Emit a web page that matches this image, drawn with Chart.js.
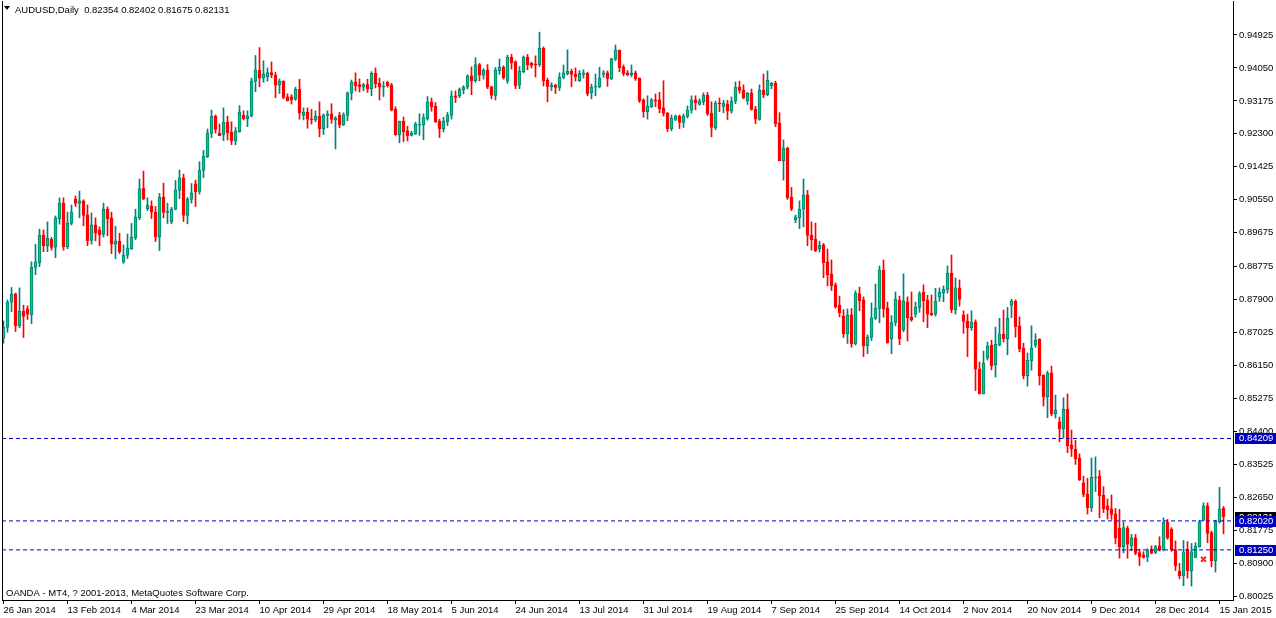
<!DOCTYPE html>
<html><head><meta charset="utf-8">
<script src="https://cdn.jsdelivr.net/npm/chart.js@4.4.1/dist/chart.umd.min.js"></script>
<style>html,body{margin:0;padding:0;background:#fff;overflow:hidden}#wrap{width:1276px;height:618px}</style>
</head><body><div id="wrap"><canvas id="c" width="1276" height="618"></canvas></div>
<script>
const symbolTitle = 'AUDUSD,Daily';
const copyrightText = 'OANDA - MT4, ? 2001-2013, MetaQuotes Software Corp.';

const open = [
0.8687,0.8716,0.8783,0.8805,0.8720,0.8759,0.8765,0.8750,0.8875,0.8888,
0.8961,0.8933,0.8950,0.8929,0.9005,0.9046,0.8930,0.8992,0.9057,0.9045,
0.9052,0.9015,0.8947,0.8988,0.8975,0.8963,0.9030,0.9007,0.8937,0.8945,
0.8889,0.8908,0.8925,0.8954,0.9007,0.9086,0.9031,0.9038,0.9022,0.8957,
0.9062,0.9021,0.8997,0.9030,0.9080,0.9113,0.9013,0.9056,0.9097,0.9077,
0.9133,0.9169,0.9231,0.9277,0.9232,0.9227,0.9261,0.9234,0.9212,0.9236,
0.9279,0.9270,0.9277,0.9369,0.9399,0.9378,0.9382,0.9393,0.9386,0.9359,
0.9370,0.9328,0.9328,0.9322,0.9348,0.9279,0.9288,0.9270,0.9267,0.9277,
0.9244,0.9279,0.9283,0.9267,0.9279,0.9254,0.9279,0.9338,0.9368,0.9361,
0.9354,0.9361,0.9350,0.9391,0.9364,0.9354,0.9367,0.9360,0.9296,0.9228,
0.9264,0.9238,0.9226,0.9230,0.9253,0.9253,0.9270,0.9315,0.9304,0.9264,
0.9244,0.9262,0.9279,0.9331,0.9331,0.9347,0.9354,0.9384,0.9371,0.9414,
0.9386,0.9399,0.9355,0.9332,0.9398,0.9407,0.9370,0.9434,0.9421,0.9359,
0.9395,0.9434,0.9418,0.9415,0.9413,0.9457,0.9372,0.9355,0.9359,0.9353,
0.9380,0.9390,0.9396,0.9388,0.9371,0.9388,0.9391,0.9339,0.9354,0.9355,
0.9388,0.9392,0.9376,0.9428,0.9452,0.9408,0.9392,0.9387,0.9392,0.9378,
0.9320,0.9289,0.9302,0.9320,0.9320,0.9299,0.9285,0.9244,0.9268,0.9277,
0.9260,0.9276,0.9293,0.9320,0.9308,0.9315,0.9333,0.9285,0.9246,0.9312,
0.9303,0.9309,0.9290,0.9317,0.9354,0.9346,0.9318,0.9339,0.9295,0.9268,
0.9346,0.9334,0.9358,0.9365,0.9259,0.9159,0.9192,0.9062,0.9002,0.9007,
0.9030,0.9068,0.8961,0.8950,0.8925,0.8935,0.8890,0.8858,0.8829,0.8775,
0.8746,0.8699,0.8749,0.8673,0.8806,0.8789,0.8667,0.8689,0.8740,0.8766,
0.8868,0.8768,0.8686,0.8729,0.8788,0.8710,0.8783,0.8743,0.8751,0.8769,
0.8809,0.8788,0.8754,0.8751,0.8796,0.8808,0.8817,0.8860,0.8763,0.8821,
0.8749,0.8733,0.8715,0.8731,0.8606,0.8540,0.8635,0.8668,0.8617,0.8669,
0.8698,0.8686,0.8774,0.8786,0.8720,0.8661,0.8588,0.8627,0.8669,0.8685,
0.8589,0.8532,0.8595,0.8487,0.8465,0.8447,0.8499,0.8404,0.8392,0.8369,
0.8303,0.8273,0.8237,0.8316,0.8321,0.8270,0.8242,0.8234,0.8220,0.8182,
0.8133,0.8182,0.8136,0.8157,0.8118,0.8112,0.8107,0.8125,0.8118,0.8136,
0.8125,0.8198,0.8180,0.8125,0.8069,0.8056,0.8125,0.8070,0.8105,0.8133,
0.8204,0.8242,0.8171,0.8096,0.8200,0.82354];

const high = [
0.8733,0.8789,0.8822,0.8807,0.8821,0.8775,0.8773,0.8890,0.8937,0.8977,
0.8975,0.8996,0.8955,0.9012,0.9060,0.9060,0.9022,0.9041,0.9065,0.9078,
0.9055,0.9041,0.9020,0.9007,0.8983,0.9046,0.9036,0.9022,0.8985,0.8966,
0.8935,0.8964,0.8992,0.9030,0.9110,0.9131,0.9060,0.9052,0.9037,0.9072,
0.9099,0.9046,0.9035,0.9106,0.9134,0.9123,0.9061,0.9098,0.9107,0.9156,
0.9186,0.9243,0.9293,0.9280,0.9256,0.9299,0.9277,0.9262,0.9247,0.9305,
0.9291,0.9291,0.9378,0.9438,0.9459,0.9424,0.9405,0.9421,0.9394,0.9376,
0.9371,0.9336,0.9334,0.9354,0.9375,0.9299,0.9299,0.9295,0.9291,0.9315,
0.9283,0.9291,0.9310,0.9276,0.9287,0.9286,0.9341,0.9373,0.9392,0.9376,
0.9364,0.9375,0.9395,0.9405,0.9378,0.9369,0.9370,0.9364,0.9302,0.9264,
0.9275,0.9250,0.9237,0.9261,0.9283,0.9283,0.9329,0.9325,0.9313,0.9269,
0.9274,0.9287,0.9344,0.9344,0.9352,0.9358,0.9387,0.9408,0.9432,0.9417,
0.9403,0.9414,0.9357,0.9406,0.9429,0.9411,0.9439,0.9441,0.9424,0.9409,
0.9437,0.9441,0.9420,0.9437,0.9500,0.9461,0.9378,0.9366,0.9362,0.9392,
0.9413,0.9453,0.9402,0.9405,0.9398,0.9400,0.9394,0.9362,0.9389,0.9407,
0.9398,0.9397,0.9431,0.9466,0.9453,0.9413,0.9398,0.9413,0.9397,0.9379,
0.9323,0.9331,0.9324,0.9336,0.9340,0.9371,0.9287,0.9280,0.9280,0.9280,
0.9283,0.9304,0.9331,0.9331,0.9323,0.9339,0.9340,0.9315,0.9317,0.9325,
0.9319,0.9319,0.9328,0.9368,0.9370,0.9360,0.9340,0.9349,0.9303,0.9360,
0.9389,0.9397,0.9367,0.9370,0.9286,0.9214,0.9195,0.9088,0.9014,0.9052,
0.9110,0.9080,0.8996,0.8993,0.8945,0.8939,0.8924,0.8895,0.8834,0.8799,
0.8763,0.8765,0.8766,0.8813,0.8823,0.8797,0.8696,0.8781,0.8831,0.8879,
0.8895,0.8783,0.8747,0.8810,0.8799,0.8858,0.8797,0.8810,0.8783,0.8811,
0.8829,0.8801,0.8802,0.8820,0.8821,0.8826,0.8879,0.8908,0.8847,0.8842,
0.8760,0.8751,0.8760,0.8736,0.8624,0.8653,0.8677,0.8682,0.8717,0.8740,
0.8762,0.8769,0.8791,0.8789,0.8744,0.8674,0.8648,0.8720,0.8699,0.8686,
0.8590,0.8600,0.8613,0.8536,0.8478,0.8529,0.8539,0.8443,0.8416,0.8380,
0.8321,0.8315,0.8369,0.8372,0.8336,0.8293,0.8260,0.8271,0.8235,0.8233,
0.8199,0.8188,0.8166,0.8166,0.8127,0.8120,0.8128,0.8136,0.8137,0.8160,
0.8210,0.8206,0.8184,0.8149,0.8089,0.8150,0.8147,0.8142,0.8144,0.8204,
0.8250,0.8250,0.8175,0.8204,0.8291,0.82402];

const low = [
0.8674,0.8703,0.8758,0.8705,0.8715,0.8689,0.8737,0.8726,0.8856,0.8877,
0.8917,0.8917,0.8921,0.8901,0.8990,0.8921,0.8925,0.8988,0.9037,0.9007,
0.8986,0.8933,0.8937,0.8946,0.8933,0.8956,0.8959,0.8912,0.8898,0.8912,
0.8886,0.8899,0.8923,0.8949,0.9002,0.9055,0.9026,0.9005,0.8944,0.8920,
0.9007,0.8992,0.8991,0.9028,0.9058,0.8997,0.8991,0.9046,0.9037,0.9070,
0.9114,0.9167,0.9220,0.9232,0.9225,0.9212,0.9214,0.9201,0.9201,0.9234,
0.9267,0.9249,0.9275,0.9342,0.9355,0.9367,0.9370,0.9379,0.9326,0.9337,
0.9323,0.9317,0.9309,0.9319,0.9269,0.9267,0.9245,0.9256,0.9262,0.9222,
0.9228,0.9246,0.9258,0.9190,0.9246,0.9252,0.9265,0.9320,0.9344,0.9341,
0.9344,0.9340,0.9331,0.9352,0.9320,0.9329,0.9354,0.9291,0.9226,0.9206,
0.9209,0.9211,0.9224,0.9228,0.9226,0.9214,0.9266,0.9290,0.9260,0.9220,
0.9235,0.9252,0.9269,0.9313,0.9326,0.9336,0.9349,0.9334,0.9367,0.9371,
0.9375,0.9350,0.9323,0.9320,0.9388,0.9375,0.9364,0.9402,0.9350,0.9350,
0.9392,0.9400,0.9405,0.9381,0.9409,0.9357,0.9315,0.9345,0.9337,0.9345,
0.9376,0.9386,0.9355,0.9370,0.9369,0.9378,0.9331,0.9323,0.9331,0.9352,
0.9380,0.9356,0.9374,0.9424,0.9395,0.9384,0.9384,0.9381,0.9372,0.9313,
0.9274,0.9269,0.9300,0.9302,0.9286,0.9277,0.9236,0.9238,0.9265,0.9244,
0.9247,0.9272,0.9285,0.9294,0.9306,0.9307,0.9279,0.9222,0.9241,0.9289,
0.9286,0.9268,0.9285,0.9310,0.9338,0.9323,0.9308,0.9293,0.9257,0.9266,
0.9326,0.9331,0.9350,0.9249,0.9158,0.9107,0.9056,0.9026,0.8994,0.8978,
0.8983,0.8933,0.8921,0.8917,0.8916,0.8848,0.8826,0.8814,0.8767,0.8744,
0.8689,0.8673,0.8663,0.8669,0.8760,0.8638,0.8646,0.8681,0.8737,0.8728,
0.8743,0.8674,0.8646,0.8720,0.8670,0.8704,0.8680,0.8732,0.8743,0.8756,
0.8731,0.8715,0.8747,0.8746,0.8785,0.8784,0.8807,0.8755,0.8751,0.8772,
0.8700,0.8638,0.8708,0.8548,0.8539,0.8539,0.8629,0.8603,0.8584,0.8667,
0.8677,0.8643,0.8742,0.8690,0.8651,0.8579,0.8560,0.8602,0.8663,0.8563,
0.8507,0.8476,0.8481,0.8475,0.8412,0.8422,0.8383,0.8373,0.8352,0.8309,
0.8266,0.8220,0.8227,0.8280,0.8210,0.8224,0.8207,0.8206,0.8141,0.8103,
0.8117,0.8103,0.8123,0.8112,0.8083,0.8103,0.8094,0.8114,0.8115,0.8122,
0.8122,0.8153,0.8121,0.8070,0.8048,0.8030,0.8050,0.8029,0.8104,0.8132,
0.8202,0.8144,0.8080,0.8066,0.8196,0.81675];

const close = [
0.8716,0.8783,0.8804,0.8720,0.8759,0.8745,0.8751,0.8876,0.8890,0.8961,
0.8933,0.8953,0.8928,0.9007,0.9046,0.8930,0.8992,0.9022,0.9045,0.9052,
0.9013,0.8946,0.8988,0.8966,0.8962,0.9030,0.9005,0.8937,0.8945,0.8917,
0.8908,0.8927,0.8956,0.9009,0.9084,0.9058,0.9040,0.9022,0.8957,0.9062,
0.9021,0.9024,0.9030,0.9081,0.9113,0.9013,0.9057,0.9073,0.9076,0.9134,
0.9171,0.9232,0.9277,0.9242,0.9225,0.9261,0.9233,0.9212,0.9238,0.9288,
0.9270,0.9277,0.9370,0.9400,0.9378,0.9389,0.9393,0.9386,0.9359,0.9370,
0.9327,0.9318,0.9321,0.9348,0.9285,0.9288,0.9269,0.9267,0.9277,0.9244,
0.9280,0.9283,0.9268,0.9272,0.9254,0.9281,0.9339,0.9368,0.9357,0.9355,
0.9361,0.9349,0.9391,0.9363,0.9354,0.9357,0.9358,0.9293,0.9228,0.9263,
0.9236,0.9225,0.9232,0.9255,0.9255,0.9273,0.9315,0.9302,0.9262,0.9244,
0.9264,0.9280,0.9331,0.9327,0.9348,0.9354,0.9384,0.9370,0.9414,0.9386,
0.9399,0.9354,0.9332,0.9399,0.9407,0.9379,0.9434,0.9419,0.9358,0.9396,
0.9434,0.9413,0.9412,0.9413,0.9457,0.9371,0.9356,0.9359,0.9353,0.9380,
0.9392,0.9396,0.9388,0.9382,0.9391,0.9392,0.9337,0.9354,0.9357,0.9378,
0.9392,0.9377,0.9429,0.9453,0.9406,0.9390,0.9387,0.9392,0.9376,0.9318,
0.9289,0.9304,0.9320,0.9317,0.9297,0.9284,0.9244,0.9271,0.9277,0.9260,
0.9277,0.9293,0.9320,0.9313,0.9317,0.9333,0.9283,0.9247,0.9312,0.9310,
0.9312,0.9290,0.9317,0.9354,0.9345,0.9326,0.9338,0.9295,0.9269,0.9346,
0.9334,0.9372,0.9365,0.9257,0.9159,0.9192,0.9060,0.9031,0.9009,0.9030,
0.9068,0.8960,0.8949,0.8920,0.8934,0.8888,0.8856,0.8827,0.8770,0.8755,
0.8699,0.8749,0.8673,0.8807,0.8787,0.8667,0.8690,0.8741,0.8767,0.8868,
0.8765,0.8675,0.8729,0.8791,0.8685,0.8786,0.8742,0.8736,0.8769,0.8806,
0.8787,0.8751,0.8750,0.8785,0.8809,0.8817,0.8860,0.8763,0.8821,0.8790,
0.8732,0.8715,0.8730,0.8605,0.8540,0.8621,0.8666,0.8614,0.8671,0.8698,
0.8686,0.8740,0.8786,0.8718,0.8659,0.8588,0.8629,0.8661,0.8682,0.8588,
0.8532,0.8595,0.8487,0.8496,0.8447,0.8499,0.8402,0.8394,0.8367,0.8311,
0.8272,0.8237,0.8318,0.8318,0.8269,0.8234,0.8231,0.8219,0.8156,0.8133,
0.8184,0.8140,0.8157,0.8116,0.8107,0.8105,0.8123,0.8116,0.8134,0.8125,
0.8198,0.8157,0.8125,0.8083,0.8056,0.8120,0.8070,0.8120,0.8135,0.8198,
0.8242,0.8169,0.8096,0.8200,0.8234,0.82131];

const xTickLabels = ['26 Jan 2014','13 Feb 2014','4 Mar 2014','23 Mar 2014','10 Apr 2014','29 Apr 2014',
  '18 May 2014','5 Jun 2014','24 Jun 2014','13 Jul 2014','31 Jul 2014','19 Aug 2014','7 Sep 2014',
  '25 Sep 2014','14 Oct 2014','2 Nov 2014','20 Nov 2014','9 Dec 2014','28 Dec 2014','15 Jan 2015'];
const barsPerXTick = 16;
const yTickLabels = ['0.94925','0.94050','0.93175','0.92300','0.91425','0.90550','0.89675','0.88775',
  '0.87900','0.87025','0.86150','0.85275','0.84400','0.83525','0.82650','0.81775','0.80900','0.80025'];
const levelPrices = [0.84209, 0.82020, 0.81250];
const levelLabels = ['0.84209', '0.82020', '0.81250'];
const bidPrice = [0.82131];
const bidLabel = ['0.82131'];
const markerBars = [300];
const markerPrices = [0.8100];

// axis range / style settings
const X_MIN = -0.375, X_MAX = 307.375;
const Y_MIN = 0.79919, Y_MAX = 0.95828;
const BULL_FILL = '#00D055', BULL_EDGE = '#008080', BEAR = '#FF0000', LEVEL = '#0000CD';
const FONT = 'Liberation Sans';
const FSIZE = 9.5;

const bull = open.map((o, i) => close[i] >= o);

const bodyDs = {
  type: 'bar', label: 'body', order: 1, grouped: false,
  data: open.map((o, i) => ({x: i, y: [Math.min(o, close[i]), Math.max(o, close[i])]})),
  backgroundColor: bull.map(b => b ? BULL_FILL : BEAR),
  borderColor: bull.map(b => b ? BULL_EDGE : BEAR),
  borderWidth: 1, borderSkipped: false, barThickness: 3, minBarLength: 1
};
const wickDs = {
  type: 'bar', label: 'wick', order: 2, grouped: false,
  data: low.map((l, i) => ({x: i, y: [l, high[i]]})),
  backgroundColor: bull.map(b => b ? BULL_EDGE : BEAR),
  borderWidth: 0, barThickness: 1, minBarLength: 1
};
const levelDs = levelPrices.map(p => ({
  type: 'line', order: 0, data: [{x: X_MIN, y: p}, {x: X_MAX, y: p}],
  borderColor: LEVEL, borderWidth: 1, borderDash: [4, 3], pointRadius: 0, fill: false
}));
const markerDs = {
  type: 'line', order: -1, showLine: false,
  data: markerBars.map((b, k) => ({x: b, y: markerPrices[k]})),
  pointStyle: 'crossRot', pointRadius: 3.5, borderColor: '#FF2020', borderWidth: 2
};

const overlay = {
  id: 'overlay',
  afterDraw(chart) {
    const ctx = chart.ctx, a = chart.chartArea, ys = chart.scales.y;
    ctx.save();
    ctx.fillStyle = '#000';
    ctx.fillRect(a.left, a.top, 1, a.bottom - a.top);
    ctx.beginPath(); ctx.moveTo(4, 6); ctx.lineTo(10, 6); ctx.lineTo(7, 10); ctx.closePath(); ctx.fill();
    ctx.font = FSIZE + 'px "' + FONT + '"';
    ctx.textBaseline = 'alphabetic'; ctx.textAlign = 'left';
    ctx.fillText(symbolTitle + '  ' + [open[open.length-1], high[high.length-1], low[low.length-1], close[close.length-1]]
      .map(v => v.toFixed(5)).join(' '), 15, 13);
    ctx.fillText(copyrightText, 6, 596);
    const box = (val, txt, col) => {
      const y = Math.round(ys.getPixelForValue(val));
      ctx.fillStyle = col; ctx.fillRect(a.right + 2, y - 5, 1276 - a.right - 2, 11);
      ctx.fillStyle = '#fff'; ctx.textBaseline = 'middle';
      ctx.fillText(txt, a.right + 6, y + 0.5);
    };
    bidPrice.forEach((v, k) => box(v, bidLabel[k], '#000'));
    levelPrices.forEach((v, k) => box(v, levelLabels[k], '#0000C0'));
    ctx.restore();
  }
};

new Chart(document.getElementById('c'), {
  type: 'bar',
  data: { datasets: [markerDs, ...levelDs, bodyDs, wickDs] },
  options: {
    responsive: false, animation: false, devicePixelRatio: 1, events: [],
    layout: { autoPadding: false, padding: { left: 2, top: 1, right: 0, bottom: 0 } },
    plugins: { legend: { display: false }, tooltip: { enabled: false } },
    scales: {
      x: {
        type: 'linear', position: 'bottom', min: X_MIN, max: X_MAX, offset: false,
        afterBuildTicks: s => { s.ticks = xTickLabels.map((_, k) => ({value: k * barsPerXTick})); },
        afterFit: s => { s.height = 18; s.paddingLeft = 0; s.paddingRight = 0; },
        ticks: { autoSkip: false, maxRotation: 0, minRotation: 0, align: 'start', padding: 1,
          color: '#000', font: { family: FONT, size: FSIZE }, callback: (v, i) => xTickLabels[i] },
        grid: { offset: false, drawOnChartArea: false, drawTicks: true, tickLength: 4, color: '#000' },
        border: { display: true, color: '#000', width: 1 }
      },
      y: {
        type: 'linear', position: 'right', min: Y_MIN, max: Y_MAX,
        afterBuildTicks: s => { s.ticks = yTickLabels.map(t => ({value: parseFloat(t)})); },
        afterFit: s => { s.width = 43; s.paddingTop = 0; s.paddingBottom = 0; },
        ticks: { padding: 2, color: '#000', font: { family: FONT, size: FSIZE }, callback: (v, i) => yTickLabels[i] },
        grid: { drawOnChartArea: false, drawTicks: true, tickLength: 4, color: '#000' },
        border: { display: true, color: '#000', width: 1 }
      }
    }
  },
  plugins: [overlay]
});
</script>
</body></html>
